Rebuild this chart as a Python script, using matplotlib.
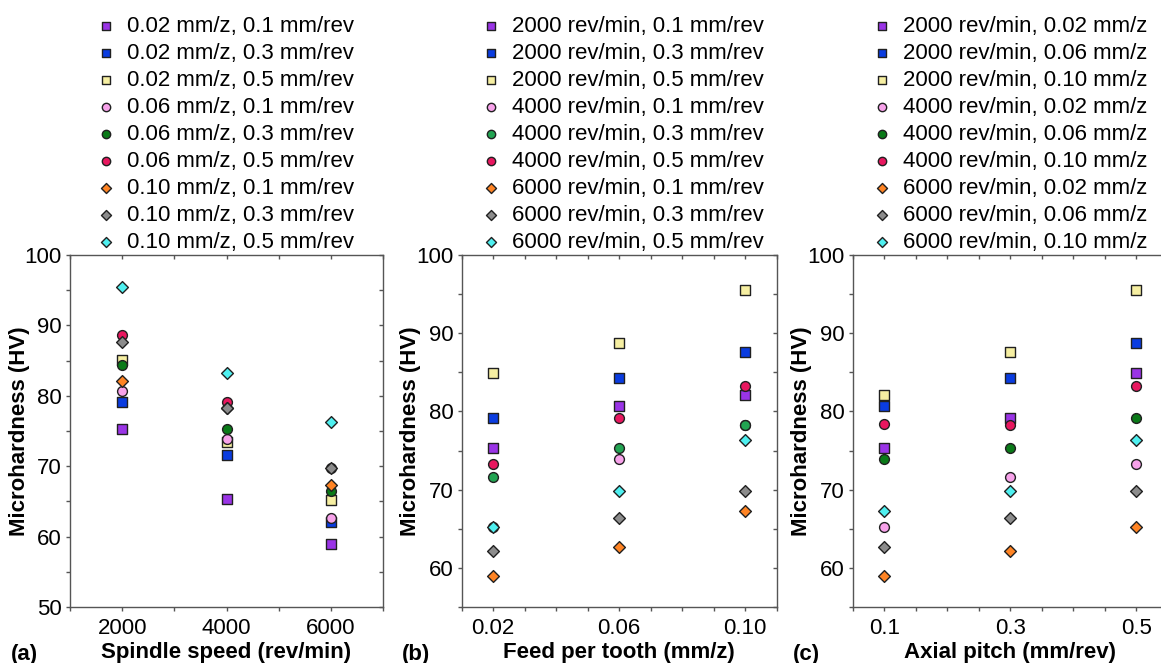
import matplotlib.pyplot as plt
from matplotlib.ticker import MultipleLocator, FixedLocator

plt.rcParams['font.family'] = ['Liberation Sans', 'DejaVu Sans']

speed = [2000, 4000, 6000]
feed = [0.02, 0.06, 0.10]
pitch = [0.1, 0.3, 0.5]

# (a) x = spindle speed, series = feed, pitch
labels_a = ["0.02 mm/z, 0.1 mm/rev", "0.02 mm/z, 0.3 mm/rev", "0.02 mm/z, 0.5 mm/rev",
            "0.06 mm/z, 0.1 mm/rev", "0.06 mm/z, 0.3 mm/rev", "0.06 mm/z, 0.5 mm/rev",
            "0.10 mm/z, 0.1 mm/rev", "0.10 mm/z, 0.3 mm/rev", "0.10 mm/z, 0.5 mm/rev"]
hv_a = [[75.3, 65.3, 59.0],
        [79.1, 71.6, 62.1],
        [85.1, 73.4, 65.2],
        [80.7, 73.9, 62.7],
        [84.3, 75.3, 66.5],
        [88.6, 79.1, 69.7],
        [82.1, 78.2, 67.3],
        [87.6, 78.2, 69.7],
        [95.5, 83.2, 76.3]]

# (b) x = feed per tooth, series = speed, pitch
labels_b = ["2000 rev/min, 0.1 mm/rev", "2000 rev/min, 0.3 mm/rev", "2000 rev/min, 0.5 mm/rev",
            "4000 rev/min, 0.1 mm/rev", "4000 rev/min, 0.3 mm/rev", "4000 rev/min, 0.5 mm/rev",
            "6000 rev/min, 0.1 mm/rev", "6000 rev/min, 0.3 mm/rev", "6000 rev/min, 0.5 mm/rev"]
hv_b = [[75.3, 80.7, 82.1],
        [79.1, 84.3, 87.6],
        [84.9, 88.7, 95.5],
        [65.2, 73.9, 78.3],
        [71.6, 75.3, 78.2],
        [73.3, 79.1, 83.2],
        [58.9, 62.7, 67.3],
        [62.1, 66.4, 69.8],
        [65.2, 69.8, 76.3]]

# (c) x = axial pitch, series = speed, feed
labels_c = ["2000 rev/min, 0.02 mm/z", "2000 rev/min, 0.06 mm/z", "2000 rev/min, 0.10 mm/z",
            "4000 rev/min, 0.02 mm/z", "4000 rev/min, 0.06 mm/z", "4000 rev/min, 0.10 mm/z",
            "6000 rev/min, 0.02 mm/z", "6000 rev/min, 0.06 mm/z", "6000 rev/min, 0.10 mm/z"]
hv_c = [[75.3, 79.1, 84.9],
        [80.7, 84.3, 88.7],
        [82.1, 87.6, 95.5],
        [65.2, 71.6, 73.3],
        [73.9, 75.3, 79.1],
        [78.4, 78.2, 83.2],
        [58.9, 62.1, 65.2],
        [62.7, 66.4, 69.8],
        [67.3, 69.8, 76.3]]

colors = ["#9a34e6", "#0a3ce0", "#f6efa2", "#f7a2ea", "#0a7a18", "#e8175f",
          "#ff8424", "#8c8c8c", "#4ff0f0"]
colors_b = colors[:4] + ["#22a452"] + colors[5:]
markers = ["s", "s", "s", "o", "o", "o", "D", "D", "D"]
sizes = {"s": 44, "o": 50, "D": 36}

fig = plt.figure(figsize=(11.61, 6.63), dpi=100)
w = 0.2713
h = 0.531
axes = [fig.add_axes([0.0603, 0.0845, 0.2696, h]),
        fig.add_axes([0.3977, 0.0845, w, h]),
        fig.add_axes([0.7345, 0.0845, w, h])]

panels = [
    (speed, hv_a, labels_a, colors, "Spindle speed (rev/min)", "(a)", (1000, 7000), (50, 100),
     1000, [2000, 4000, 6000], ["2000", "4000", "6000"], 0.072),
    (feed, hv_b, labels_b, colors_b, "Feed per tooth (mm/z)", "(b)", (0.01, 0.11), (55, 100),
     0.01, feed, ["0.02", "0.06", "0.10"], 0.05),
    (pitch, hv_c, labels_c, colors, "Axial pitch (mm/rev)", "(c)", (0.05, 0.55), (55, 100),
     0.05, pitch, ["0.1", "0.3", "0.5"], 0.05),
]

for ax, (x, hv, labels, cols, xlabel, tag, xlim, ylim, xminor, xt, xtl, lx) in zip(axes, panels):
    for vals, lab, c, m in zip(hv, labels, cols, markers):
        ax.scatter(x, vals, s=sizes[m], marker=m, color=c, edgecolors="#202020",
                   linewidths=1.0, label=lab, zorder=3, clip_on=False)
    ax.set_xlim(*xlim)
    ax.set_ylim(*ylim)
    ax.xaxis.set_major_locator(FixedLocator(xt))
    ax.set_xticklabels(xtl)
    ax.xaxis.set_minor_locator(MultipleLocator(xminor))
    ax.yaxis.set_major_locator(MultipleLocator(10))
    ax.yaxis.set_minor_locator(MultipleLocator(5))
    ax.tick_params(which="both", top=True, right=True, length=3, width=1, color="#555555",
                   labelsize=16)
    ax.tick_params(which="both", axis="x", direction="out", pad=5)
    ax.tick_params(which="both", axis="y", direction="out", pad=3)
    for sp in ax.spines.values():
        sp.set_color("#555555")
        sp.set_linewidth(1.0)
    # top/right ticks point inward
    for t in ax.xaxis.get_major_ticks() + ax.xaxis.get_minor_ticks():
        t.tick2line.set_marker(3)
    for t in ax.yaxis.get_major_ticks() + ax.yaxis.get_minor_ticks():
        t.tick2line.set_marker(0)
    ax.set_xlabel(xlabel, fontsize=16, fontweight="bold", labelpad=2)
    ax.set_ylabel("Microhardness (HV)", fontsize=16, fontweight="bold")
    ax.yaxis.set_label_coords(-0.128, 0.5)
    ax.text(-0.19, -0.135, tag, transform=ax.transAxes, fontsize=16, fontweight="bold",
            ha="left", va="center")
    ax.legend(loc="lower left", bbox_to_anchor=(lx, 1.0), frameon=False, fontsize=16,
              borderpad=0, borderaxespad=0.1, handlelength=1.0, handletextpad=0.45,
              labelspacing=0.27, markerscale=0.85)

fig.savefig("out.png", dpi=100)
